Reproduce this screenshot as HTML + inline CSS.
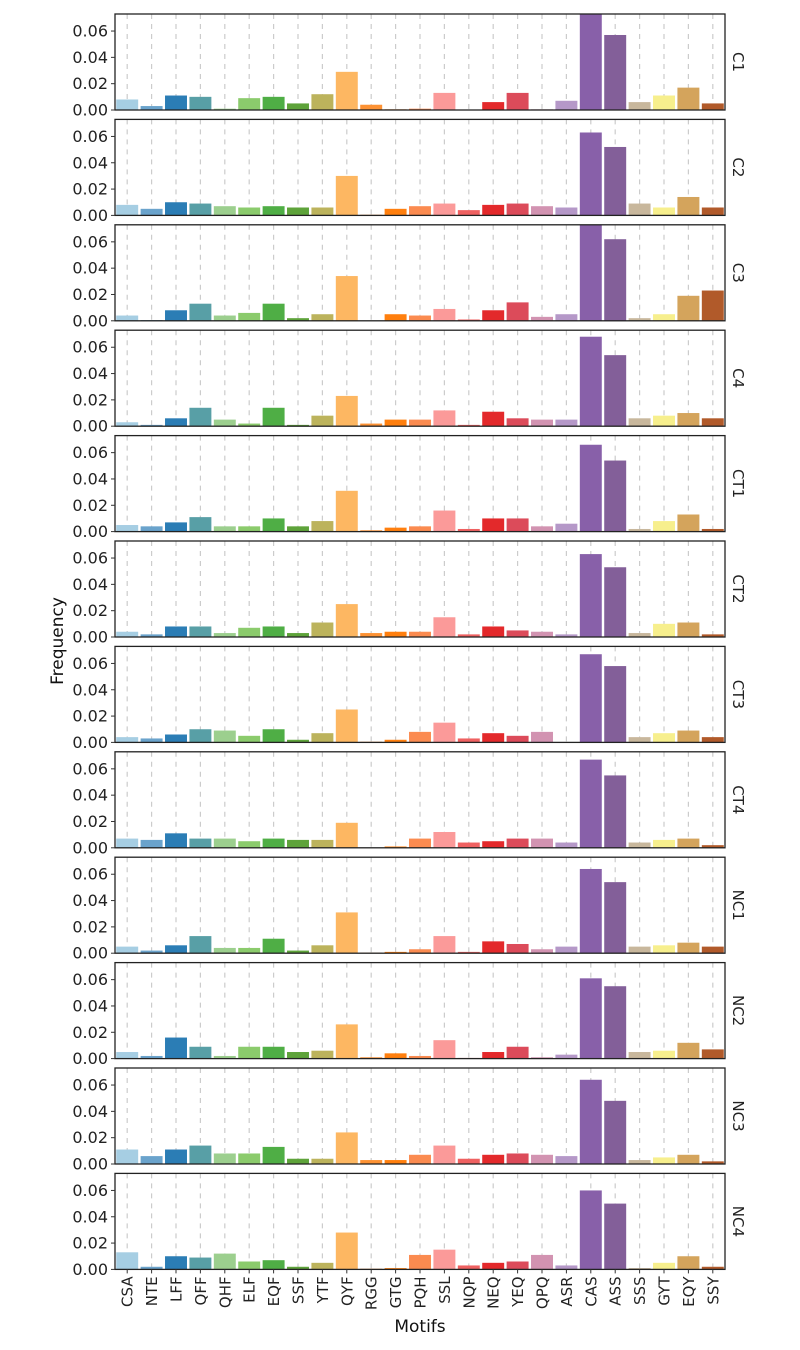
<!DOCTYPE html>
<html><head><meta charset="utf-8"><style>
body{margin:0;background:#fff;}
svg{display:block;font-family:"DejaVu Sans","Liberation Sans",sans-serif;}
</style></head><body>
<svg id="chart" width="800" height="1350" viewBox="0 0 800 1350" xmlns="http://www.w3.org/2000/svg"></svg>
<script>
const categories=["CSA","NTE","LFF","QFF","QHF","ELF","EQF","SSF","YTF","QYF","RGG","GTG","PQH","SSL","NQP","NEQ","YEQ","QPQ","ASR","CAS","ASS","SSS","GYT","EQY","SSY"];
const colors=["#a6cee3","#6aa3cc","#2b7db5","#589fa6","#9ccf8e","#8bcb6c","#4fae45","#5ea33a","#bcb35c","#fdb762","#fd9234","#ff7f0e","#fb8b50","#fb9a99","#ef6161","#e3292b","#dc4b5a","#d293b1","#b598c8","#8860a9","#835f99","#c8b79c","#f7ef8d","#d4a45c","#b15a2a"];
const panels=["C1","C2","C3","C4","CT1","CT2","CT3","CT4","NC1","NC2","NC3","NC4"];
const yTicks=[0,0.02,0.04,0.06];
const yTickLabels=["0.00","0.02","0.04","0.06"];
const vC1=[0.008,0.003,0.011,0.010,0.001,0.009,0.010,0.005,0.012,0.029,0.004,0.0005,0.001,0.013,0,0.006,0.013,0.0005,0.007,0.075,0.057,0.006,0.011,0.017,0.005];
const vC2=[0.008,0.005,0.010,0.009,0.007,0.006,0.007,0.006,0.006,0.030,0.0005,0.005,0.007,0.009,0.004,0.008,0.009,0.007,0.006,0.063,0.052,0.009,0.006,0.014,0.006];
const vC3=[0.004,0.0005,0.008,0.013,0.004,0.006,0.013,0.002,0.005,0.034,0,0.005,0.004,0.009,0.001,0.008,0.014,0.003,0.005,0.074,0.062,0.002,0.005,0.019,0.023];
const vC4=[0.003,0.001,0.006,0.014,0.005,0.002,0.014,0.001,0.008,0.023,0.002,0.005,0.005,0.012,0.001,0.011,0.006,0.005,0.005,0.068,0.054,0.006,0.008,0.010,0.006];
const vCT1=[0.005,0.004,0.007,0.011,0.004,0.004,0.010,0.004,0.008,0.031,0.001,0.003,0.004,0.016,0.002,0.010,0.010,0.004,0.006,0.066,0.054,0.002,0.008,0.013,0.002];
const vCT2=[0.004,0.002,0.008,0.008,0.003,0.007,0.008,0.003,0.011,0.025,0.003,0.004,0.004,0.015,0.002,0.008,0.005,0.004,0.002,0.063,0.053,0.003,0.010,0.011,0.002];
const vCT3=[0.004,0.003,0.006,0.010,0.009,0.005,0.010,0.002,0.007,0.025,0.0005,0.002,0.008,0.015,0.003,0.007,0.005,0.008,0,0.067,0.058,0.004,0.007,0.009,0.004];
const vCT4=[0.007,0.006,0.011,0.007,0.007,0.005,0.007,0.006,0.006,0.019,0,0.001,0.007,0.012,0.004,0.005,0.007,0.007,0.004,0.067,0.055,0.004,0.006,0.007,0.002];
const vNC1=[0.005,0.002,0.006,0.013,0.004,0.004,0.011,0.002,0.006,0.031,0.0005,0.001,0.003,0.013,0.001,0.009,0.007,0.003,0.005,0.064,0.054,0.005,0.006,0.008,0.005];
const vNC2=[0.005,0.002,0.016,0.009,0.002,0.009,0.009,0.005,0.006,0.026,0.001,0.004,0.002,0.014,0.0005,0.005,0.009,0.001,0.003,0.061,0.055,0.005,0.006,0.012,0.007];
const vNC3=[0.011,0.006,0.011,0.014,0.008,0.008,0.013,0.004,0.004,0.024,0.003,0.003,0.007,0.014,0.004,0.007,0.008,0.007,0.006,0.064,0.048,0.003,0.005,0.007,0.002];
const vNC4=[0.013,0.002,0.010,0.009,0.012,0.006,0.007,0.002,0.005,0.028,0.0005,0.001,0.011,0.015,0.003,0.005,0.006,0.011,0.003,0.060,0.050,0.001,0.005,0.010,0.002];
const series=[vC1,vC2,vC3,vC4,vCT1,vCT2,vCT3,vCT4,vNC1,vNC2,vNC3,vNC4];

const NS="http://www.w3.org/2000/svg";
const svg=document.getElementById('chart');
const X0=115,X1=725,PH=96,TOP0=14,PITCH=105.4,YMAX=96/1316;
const band=(X1-X0)/categories.length;
function xC(i){return X0+band*(i+0.5);}
function yS(v,top){return top+PH-Math.min(v,YMAX)/YMAX*PH;}
function mk(tag,attrs,parent){const e=document.createElementNS(NS,tag);for(const k in attrs)e.setAttribute(k,attrs[k]);(parent||svg).appendChild(e);return e;}

panels.forEach((p,pi)=>{
  const top=TOP0+pi*PITCH;
  const g=mk('g',{});
  
  
  categories.forEach((c,i)=>{
    const gl=mk('line',{x1:xC(i),x2:xC(i),y1:top,y2:top+PH,stroke:'#cccccc','stroke-width':1.2,'stroke-dasharray':'5,5'},g);
    
    
  });
  series[pi].forEach((v,i)=>{
    const y=yS(v,top);
    const r=mk('rect',{x:xC(i)-band*0.45,y:y,width:band*0.9,height:top+PH-y,fill:colors[i]},g);
    
    
  });
  const fr=mk('rect',{x:X0,y:top,width:X1-X0,height:PH,fill:'none',stroke:'#222','stroke-width':1.3},g);
  
  
  yTicks.forEach((t,k)=>{
    const y=yS(t,top);
    mk('line',{x1:X0-4,x2:X0,y1:y,y2:y,stroke:'#333','stroke-width':1},g);
    const tx=mk('text',{x:X0-7,y:y+5.5,'text-anchor':'end','font-size':16,fill:'#222'},g);
    tx.textContent=yTickLabels[k];
    
    
  });
  const sl=mk('text',{transform:`translate(733,${top+PH/2}) rotate(90)`,'text-anchor':'middle','font-size':15,fill:'#222'},g);
  sl.textContent=p;
  
  
});
const lastBottom=TOP0+(panels.length-1)*PITCH+PH;
categories.forEach((c,i)=>{
  mk('line',{x1:xC(i),x2:xC(i),y1:lastBottom,y2:lastBottom+4,stroke:'#333'});
  const t=mk('text',{transform:`translate(${xC(i)+5.5},${lastBottom+7}) rotate(-90)`,'text-anchor':'end','font-size':15,fill:'#222'});
  t.textContent=c;
  
  
});
const xt=mk('text',{x:420,y:1332,'text-anchor':'middle','font-size':17,fill:'#111'});
xt.textContent='Motifs';


const yt=mk('text',{transform:'translate(63,641) rotate(-90)','text-anchor':'middle','font-size':17,fill:'#111'});
yt.textContent='Frequency';


</script>
</body></html>
